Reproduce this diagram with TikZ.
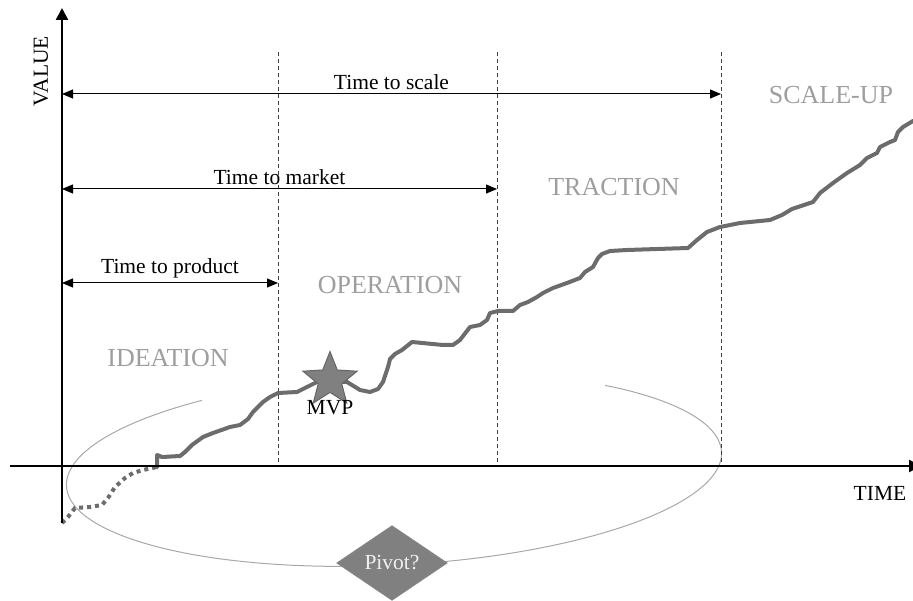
\documentclass[tikz,border=0pt]{standalone}
\usepackage{fontspec}
\setmainfont{Liberation Serif}
\usetikzlibrary{shapes.geometric, arrows.meta, positioning}

\definecolor{curvegray}{RGB}{108,108,108}
\definecolor{labelgray}{RGB}{158,158,158}
\definecolor{ringgray}{RGB}{168,168,168}
\definecolor{markgray}{RGB}{128,128,128}

\tikzstyle{axisline} = [
  line width=2.5pt,
  -{Triangle[length=12pt,width=12pt]}
]
\tikzstyle{milestone} = [
  dash pattern=on 4pt off 3pt,
  line width=0.9pt,
  draw=black!75
]
\tikzstyle{timespan} = [
  line width=1pt,
  {Triangle[length=11pt,width=9pt]}-{Triangle[length=11pt,width=9pt]}
]
\tikzstyle{spanlabel} = [
  above,
  inner sep=4pt,
  font=\fontsize{21.5}{24}\selectfont
]
\tikzstyle{phase} = [
  text=labelgray,
  font=\fontsize{26}{30}\selectfont
]
\tikzstyle{axislabel} = [
  font=\fontsize{21.5}{24}\selectfont
]
\tikzstyle{valueline} = [
  line width=4pt,
  draw=curvegray,
  line join=round,
  line cap=round
]
\tikzstyle{valuedots} = [
  line width=4pt,
  draw=curvegray,
  dash pattern=on 4pt off 4pt
]
\tikzstyle{ring} = [
  line width=1pt,
  draw=ringgray
]
\tikzstyle{mvpstar} = [
  star,
  star points=5,
  star point ratio=2.3,
  minimum size=57pt,
  inner sep=0pt,
  fill=markgray,
  draw=black!60,
  line width=1pt
]
\tikzstyle{pivotbox} = [
  diamond,
  aspect=1.48,
  minimum width=111pt,
  minimum height=75pt,
  inner sep=0pt,
  fill=markgray,
  draw=black!45,
  text=white!94!black,
  font=\fontsize{21.5}{24}\selectfont
]

\begin{document}
\begin{tikzpicture}[x=1pt, y=-1pt]
      \useasboundingbox (0,0) rectangle (913,601);

      % axes
      \coordinate (origin) at (62,466);
      \coordinate (ybottom) at (62,523);
      \coordinate (ytop) at (62,8);
      \coordinate (xleft) at (10,466);
      \coordinate (xright) at (921,466);

      % milestones
      \coordinate (product top) at (278,52);
      \coordinate (product base) at (278,466);
      \coordinate (market top) at (497,52);
      \coordinate (market base) at (497,466);
      \coordinate (scale top) at (721,52);
      \coordinate (scale base) at (721,466);

      \coordinate (product start) at (62,283);
      \coordinate (product end) at (278,283);
      \coordinate (market start) at (62,189);
      \coordinate (market end) at (497,189);
      \coordinate (scale start) at (62,94);
      \coordinate (scale end) at (721,94);

      % pivot loop
      \begin{scope}[shift={(394,469)}, rotate=3]
        \draw [ring] (125:328pt and 96pt) arc [start angle=125, end angle=409, x radius=328pt, y radius=96pt];
      \end{scope}
      \node [pivotbox] (pivot) at (392,563) {Pivot?};

      \draw [milestone] (product top) -- (product base);
      \draw [milestone] (market top) -- (market base);
      \draw [milestone] (scale top) -- (scale base);

      \draw [timespan] (product start) -- node [spanlabel] {Time to product} (product end);
      \draw [timespan] (market start) -- node [spanlabel] {Time to market} (market end);
      \draw [timespan] (scale start) -- node [spanlabel] {Time to scale} (scale end);

      \node [phase] (ideation) at (168,358) {IDEATION};
      \node [phase] (operation) at (390,285) {OPERATION};
      \node [phase] (traction) at (614,187) {TRACTION};
      \node [phase] (scaleup) at (831,95) {SCALE-UP};

      % value curve
      \draw [valuedots] (62,523) -- (68,517) -- (75,508) -- (90,507) -- (102,505) -- (108,498)
        -- (115,487) -- (125,478) -- (133,473) -- (143,470) -- (157,467);
      \draw [valueline] (157,467) -- (157,455) -- (162,457) -- (180,456) -- (185,452) -- (192,445)
        -- (203,437) -- (213,433) -- (230,427) -- (240,425) -- (248,419) -- (253,412)
        -- (263,402) -- (270,397) -- (278,393) -- (297,392) -- (307,387) -- (317,382)
        -- (347,382) -- (360,390) -- (370,392) -- (378,389) -- (383,382) -- (388,367)
        -- (390,359) -- (395,354) -- (402,350) -- (412,342) -- (443,345) -- (453,345)
        -- (460,340) -- (470,327) -- (480,325) -- (487,320) -- (490,313) -- (498,311)
        -- (513,311) -- (520,305) -- (528,302) -- (537,297) -- (543,293) -- (553,288)
        -- (567,283) -- (580,278) -- (585,272) -- (593,267) -- (598,258) -- (602,254)
        -- (610,251) -- (627,250) -- (688,248) -- (697,240) -- (707,232) -- (720,227)
        -- (740,223) -- (770,220) -- (782,215) -- (792,209) -- (813,202) -- (820,193)
        -- (833,183) -- (847,173) -- (860,165) -- (867,158) -- (877,153) -- (880,147)
        -- (890,142) -- (895,140) -- (898,132) -- (903,127) -- (913,121);

      \node [mvpstar] (mvp) at (330,380) {};
      \node [axislabel] (mvp label) at (330,408) {MVP};

      \draw [axisline] (xleft) -- (xright);
      \draw [axisline] (ybottom) -- (ytop);
      \node [axislabel, rotate=90] (value label) at (41,71) {VALUE};
      \node [axislabel] (time label) at (880,493) {TIME};

    \end{tikzpicture}
\end{document}
